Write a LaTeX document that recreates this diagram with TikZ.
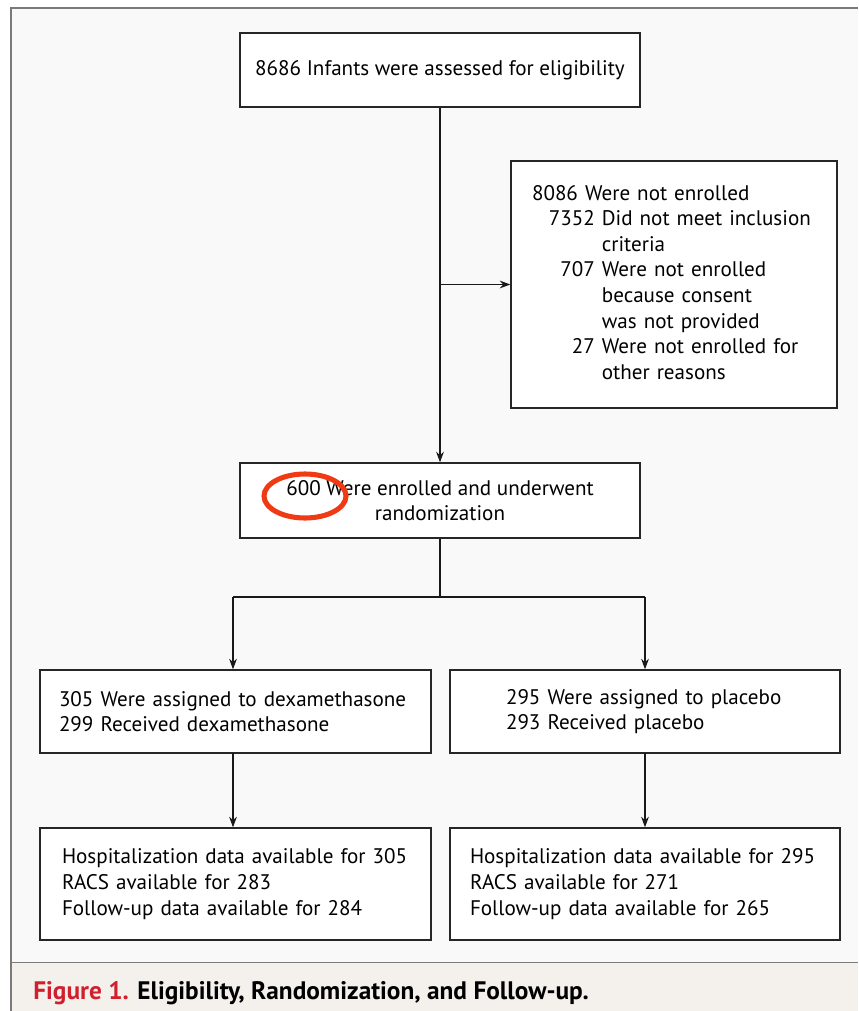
\documentclass[tikz,border=0pt]{standalone}
\usepackage{fontspec}
\setmainfont{PT Sans}
\usetikzlibrary{arrows.meta, positioning}
\definecolor{panelgray}{HTML}{F9F9F9}
\definecolor{capgray}{HTML}{F4F1EC}
\definecolor{framegray}{HTML}{7A7A7A}
\definecolor{nejmred}{HTML}{D0202E}
\definecolor{markred}{HTML}{F03A14}
\newcommand{\pu}{0.025cm}

\begin{document}
\begin{tikzpicture}[
    x=0.025cm, y=-0.025cm,
    % Styles
    box/.style={draw=black!85, line width=1pt, fill=white, font=\fontsize{15}{18.2}\selectfont},
    flow/.style={line width=0.8pt, draw=black!90, -{Stealth[length=7.5pt, width=5.5pt]}},
    link/.style={line width=0.8pt, draw=black!90},
  ]
  \useasboundingbox (0,0) rectangle (858,1011);

  % 1) Panel and caption strip
  \fill[panelgray] (11,8) rectangle (858,962);
  \fill[capgray] (11,963) rectangle (858,1011);
  \draw[framegray, line width=1pt] (858,8) -- (11,8) -- (11,1011);
  \draw[framegray, line width=1.2pt] (11,962.5) -- (858,962.5);

  % 2) Assessment and exclusions
  \node[box, minimum width={400*\pu}, minimum height={74*\pu}] (assess) at (440,70)
    {8686 Infants were assessed for eligibility};
  \node[box, minimum width={326*\pu}, minimum height={247*\pu}, text width={284*\pu},
        inner xsep={21*\pu}, align=left] (excl) at (674,284.5)
    {\begin{tabular}{@{}r@{\ }l@{}}
       \multicolumn{2}{@{}l@{}}{8086 Were not enrolled}\\
       \hspace*{0.8em}7352 & Did not meet inclusion\\
                           & criteria\\
       707 & Were not enrolled\\
           & because consent\\
           & was not provided\\
       27  & Were not enrolled for\\
           & other reasons
     \end{tabular}};
  \node[box, minimum width={400*\pu}, minimum height={75*\pu}, align=center] (rand) at (440,500.5)
    {600 Were enrolled and underwent\\randomization};

  \draw[flow] (assess.south) -- (rand.north);
  \coordinate (branch) at (assess.south |- excl.west);
  \draw[flow] (branch) -- (excl.west);

  % 3) Allocation
  \node[box, minimum width={391*\pu}, minimum height={83*\pu}, text width={353*\pu},
        inner xsep={19*\pu}, align=left] (dexa) at (235.5,711.5)
    {305 Were assigned to dexamethasone\\299 Received dexamethasone};
  \node[box, minimum width={390*\pu}, minimum height={83*\pu}, text width={278*\pu},
        inner xsep={56*\pu}, align=left] (plac) at (645,711.5)
    {295 Were assigned to placebo\\293 Received placebo};

  \coordinate (split) at (440,597);
  \coordinate (splitL) at (233,597);
  \coordinate (splitR) at (645,597);
  \draw[link] (rand.south) -- (split);
  \draw[link] (splitL) -- (splitR);
  \draw[flow] (splitL) -- (splitL |- dexa.north);
  \draw[flow] (splitR) -- (splitR |- plac.north);

  % 4) Follow-up
  \node[box, minimum width={391*\pu}, minimum height={112*\pu}, text width={347*\pu},
        inner xsep={22*\pu}, align=left] (fuL) at (235.5,884)
    {Hospitalization data available for 305\\RACS available for 283\\Follow-up data available for 284};
  \node[box, minimum width={390*\pu}, minimum height={112*\pu}, text width={350*\pu},
        inner xsep={20*\pu}, align=left] (fuR) at (645,884)
    {Hospitalization data available for 295\\RACS available for 271\\Follow-up data available for 265};

  \coordinate (dexaOut) at (233,753);
  \coordinate (placOut) at (645,753);
  \draw[flow] (dexaOut) -- (dexaOut |- fuL.north);
  \draw[flow] (placOut) -- (placOut |- fuR.north);

  % 5) Highlight mark
  \draw[markred, line width=3.6pt] (305,496) ellipse ({41*\pu} and {22*\pu});

  % 6) Caption
  \node[anchor=west, inner sep=0pt, font=\bfseries\fontsize{18}{21}\selectfont] (caption) at (33,993)
    {\textcolor{nejmred}{Figure 1.} Eligibility, Randomization, and Follow-up.};
\end{tikzpicture}
\end{document}
